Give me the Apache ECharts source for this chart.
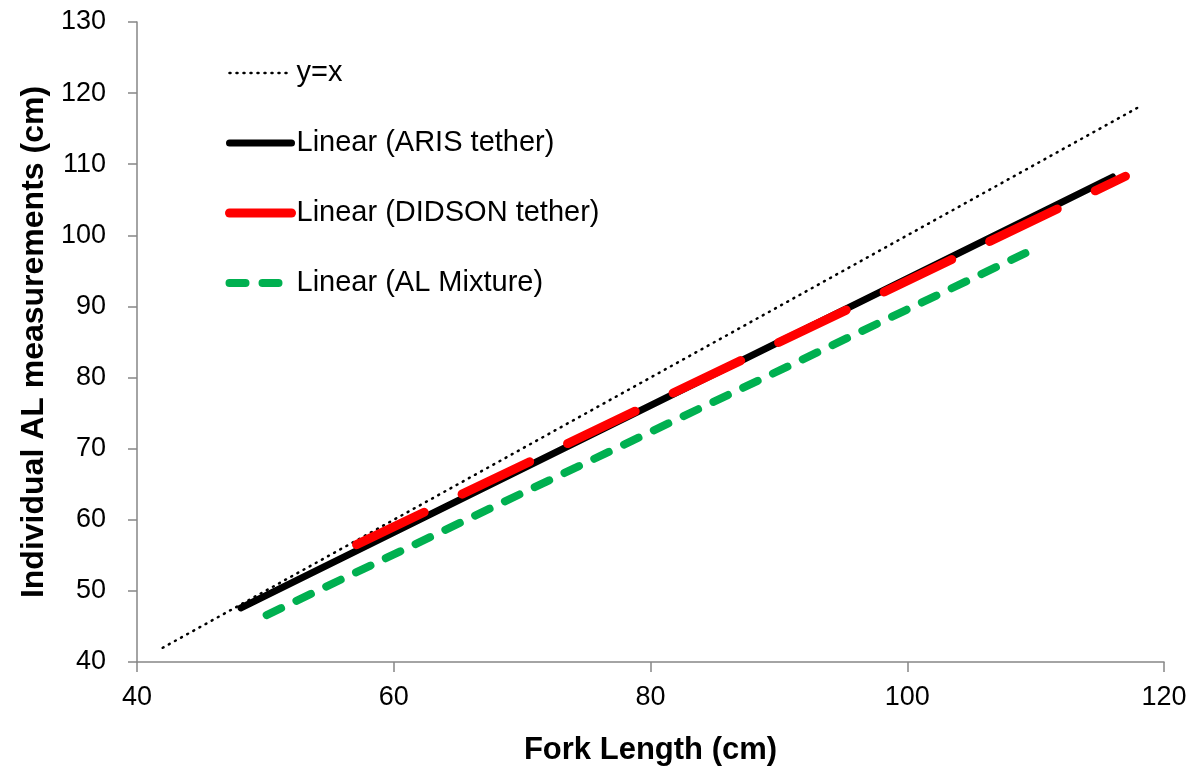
<!DOCTYPE html>
<html>
<head>
<meta charset="utf-8">
<script src="https://cdn.jsdelivr.net/npm/echarts@6/dist/echarts.min.js"></script>
<style>html,body{margin:0;padding:0;background:#fff;}#c{width:1200px;height:778px;}</style>
</head>
<body>
<div id="c"></div>
<script>
const seriesNames = ['y=x', 'Linear (ARIS tether)', 'Linear (DIDSON tether)', 'Linear (AL Mixture)'];
const yEqualsX = [[42, 42], [118, 118]];
const arisTether = [[48.1, 47.6], [116.0, 108.2]];
const didsonTether = [[57.1, 56.5], [117.0, 108.3]];
const alMixture = [[50.1, 46.6], [109.2, 97.5]];
const xTicks = { min: 40, max: 120, interval: 20 };
const yTicks = { min: 40, max: 130, interval: 10 };

const FONT = '"Liberation Sans", Arial, sans-serif';
const styles = [
  { color: '#000000', width: 2.5, type: [1, 6], cap: 'round' },
  { color: '#000000', width: 7, type: 'solid', cap: 'round' },
  { color: '#ff0000', width: 9, type: [75, 42], cap: 'round' },
  { color: '#00b050', width: 8, type: [16, 17], cap: 'round' }
];
const datas = [yEqualsX, arisTether, didsonTether, alMixture];

const chart = echarts.init(document.getElementById('c'), null, { renderer: 'canvas' });
chart.setOption({
  animation: false,
  backgroundColor: '#ffffff',
  grid: { left: 137, right: 36, top: 22, bottom: 116, containLabel: false },
  legend: {
    orient: 'vertical',
    left: 220,
    top: 53,
    itemWidth: 62,
    itemHeight: 14,
    itemGap: 40,
    textStyle: { fontFamily: FONT, fontSize: 29, color: '#000', lineHeight: 30 },
    data: seriesNames.map((n, i) => ({
      name: n,
      itemStyle: { color: styles[i].color, opacity: 0 },
      lineStyle: { color: styles[i].color, width: styles[i].width, type: styles[i].type, cap: styles[i].cap, opacity: 1 }
    }))
  },
  xAxis: {
    type: 'value',
    min: xTicks.min, max: xTicks.max, interval: xTicks.interval,
    name: 'Fork Length (cm)',
    nameLocation: 'middle',
    nameGap: 73,
    nameTextStyle: { fontFamily: FONT, fontSize: 31, fontWeight: 'bold', color: '#000' },
    axisLine: { show: true, lineStyle: { color: '#868686', width: 1.5 } },
    axisTick: { show: true, inside: false, length: 10, lineStyle: { color: '#868686', width: 1.5 } },
    axisLabel: { fontFamily: FONT, fontSize: 27, color: '#000', margin: 22 },
    splitLine: { show: false }
  },
  yAxis: {
    type: 'value',
    min: yTicks.min, max: yTicks.max, interval: yTicks.interval,
    name: 'Individual AL measurements (cm)',
    nameLocation: 'middle',
    nameGap: 86,
    nameTextStyle: { fontFamily: FONT, fontSize: 32, fontWeight: 'bold', color: '#000' },
    axisLine: { show: true, lineStyle: { color: '#868686', width: 1.5 } },
    axisTick: { show: true, inside: false, length: 9, lineStyle: { color: '#868686', width: 1.5 } },
    axisLabel: { fontFamily: FONT, fontSize: 27, color: '#000', margin: 31 },
    splitLine: { show: false }
  },
  series: seriesNames.map((n, i) => ({
    name: n,
    type: 'line',
    data: datas[i],
    symbol: 'none',
    showSymbol: false,
    silent: true,
    z: i === 2 ? 5 : (i === 1 ? 4 : 3),
    itemStyle: { color: styles[i].color },
    lineStyle: styles[i]
  }))
});
</script>
</body>
</html>
